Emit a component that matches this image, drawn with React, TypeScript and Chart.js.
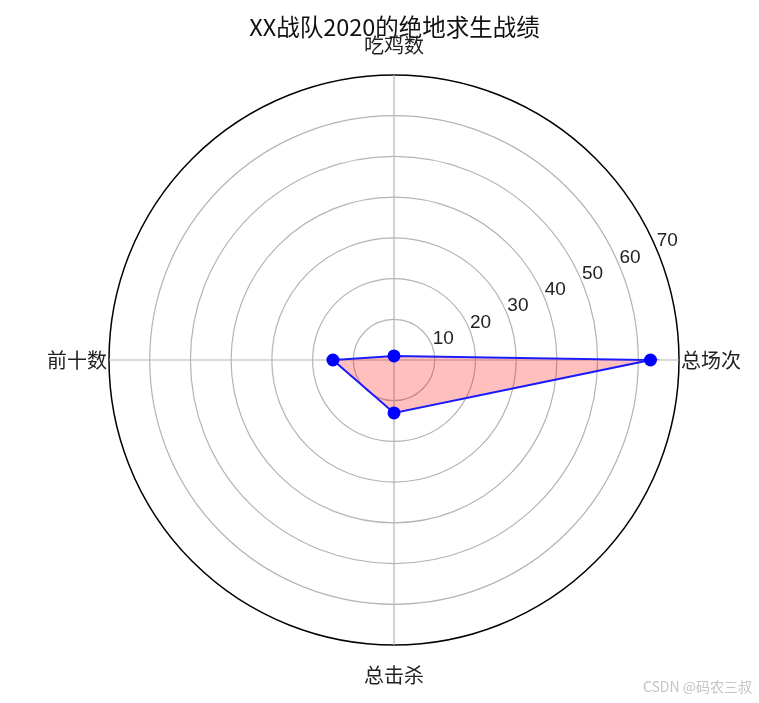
import React, { useEffect, useRef } from "react";
import { Chart, registerables } from "chart.js";

Chart.register(...registerables);

const TITLE = "XX战队2020的绝地求生战绩";
const CATEGORIES = ["吃鸡数", "总场次", "总击杀", "前十数"];
const VALUES = [1, 63, 13, 15];
const TICK_VALUES = [10, 20, 30, 40, 50, 60, 70];
const R_MAX = 70;
const WATERMARK = "CSDN @码农三叔";

const CJK = '"Noto Sans CJK SC", "Noto Sans", sans-serif';

const labelsPlugin = {
  id: "radarExtras",
  afterDraw(chart: any) {
    const scale = chart.scales.r;
    const ctx = chart.ctx;
    const cx = scale.xCenter;
    const cy = scale.yCenter;
    const R = scale.drawingArea;
    ctx.save();
    // category labels
    ctx.fillStyle = "#222";
    ctx.font = `20px ${CJK}`;
    CATEGORIES.forEach((lab, i) => {
      const ang = scale.getIndexAngle(i);
      const s = Math.sin(ang);
      let pos;
      if (Math.abs(s) < 0.01) {
        pos = scale.getPointPosition(i, R + 30);
        ctx.textAlign = "center";
      } else {
        pos = scale.getPointPosition(i, R + 2);
        ctx.textAlign = s > 0 ? "left" : "right";
      }
      ctx.textBaseline = "middle";
      ctx.fillText(lab, pos.x, pos.y);
    });
    // radial tick labels at ~23 deg
    ctx.font = '19px "Liberation Sans Narrow", "Liberation Sans", sans-serif';
    ctx.fillStyle = "#222";
    ctx.textAlign = "center";
    ctx.textBaseline = "middle";
    const a = (23.5 * Math.PI) / 180;
    TICK_VALUES.forEach((v) => {
      const d = scale.getDistanceFromCenterForValue(v) + 13;
      ctx.fillText(String(v), cx + d * Math.cos(a), cy - d * Math.sin(a));
    });
    // watermark
    ctx.font = `14px ${CJK}`;
    ctx.fillStyle = "#c4c4c4";
    ctx.textAlign = "right";
    ctx.fillText(WATERMARK, 752, 687);
    ctx.restore();
  },
};

export default function App() {
  const ref = useRef<HTMLCanvasElement | null>(null);
  useEffect(() => {
    document.body.style.margin = "0";
    const chart = new Chart(ref.current as HTMLCanvasElement, {
      type: "radar",
      data: {
        labels: CATEGORIES,
        datasets: [
          {
            data: VALUES,
            borderColor: "#1a1aff",
            borderWidth: 2,
            backgroundColor: "rgba(255,0,0,0.25)",
            fill: true,
            tension: 0,
            pointRadius: 6.5,
            pointHoverRadius: 6.5,
            pointBackgroundColor: "#0000ff",
            pointBorderColor: "#0000ff",
            pointBorderWidth: 0,
          },
        ],
      },
      options: {
        animation: false,
        responsive: false,
        maintainAspectRatio: false,
        layout: { padding: { left: 109, right: 79, top: 0, bottom: 57 } },
        plugins: {
          legend: { display: false },
          tooltip: { enabled: false },
          title: {
            display: true,
            text: TITLE,
            color: "#111",
            font: { family: CJK, size: 23.5, weight: "normal" },
            padding: { top: 13, bottom: 34 },
          },
        },
        scales: {
          r: {
            min: 0,
            max: R_MAX,
            ticks: { display: false, stepSize: 10 },
            pointLabels: { display: false },
            grid: {
              circular: true,
              color: (c: any) => (c.tick && c.tick.value === R_MAX ? "#000" : "#b4b4b4"),
              lineWidth: (c: any) => (c.tick && c.tick.value === R_MAX ? 1.5 : 1.2),
            },
            angleLines: { display: true, color: "#b4b4b4", lineWidth: 1.2 },
          },
        },
      },
      plugins: [labelsPlugin],
    });
    return () => chart.destroy();
  }, []);
  return (
    <div style={{ position: "absolute", left: 0, top: 0, width: 759, height: 703, background: "#fff" }}>
      <canvas ref={ref} width={759} height={703} style={{ width: 759, height: 703 }} />
    </div>
  );
}
